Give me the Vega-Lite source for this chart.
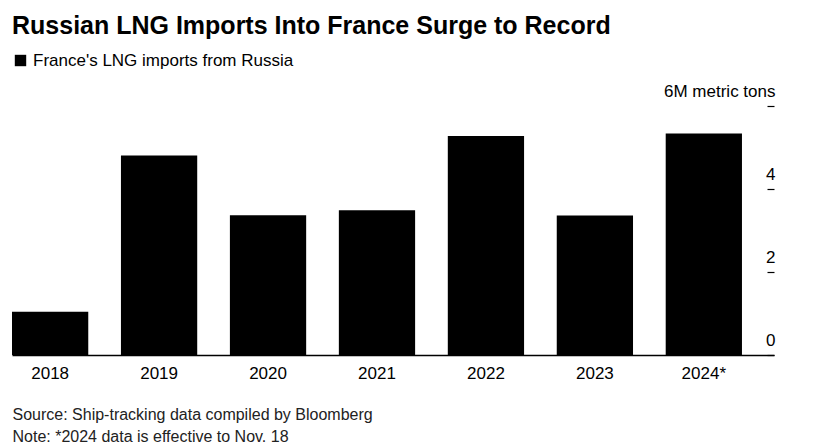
{
  "$schema": "https://vega.github.io/schema/vega-lite/v6.json",
  "width": 762,
  "height": 249,
  "padding": {"left": 12, "top": 14, "right": 5, "bottom": 5},
  "background": "white",
  "title": {
    "text": "Russian LNG Imports Into France Surge to Record",
    "anchor": "start",
    "font": "Liberation Sans",
    "fontSize": 25,
    "fontWeight": "bold",
    "color": "#000000",
    "offset": 13
  },
  "config": {
    "view": {"stroke": null},
    "font": "Liberation Sans"
  },
  "data": {
    "values": [
      {"year": "2018", "imports": 1.04},
      {"year": "2019", "imports": 4.81},
      {"year": "2020", "imports": 3.37},
      {"year": "2021", "imports": 3.49},
      {"year": "2022", "imports": 5.28},
      {"year": "2023", "imports": 3.36},
      {"year": "2024*", "imports": 5.34}
    ]
  },
  "transform": [
    {"calculate": "'France\\'s LNG imports from Russia'", "as": "series"}
  ],
  "mark": {"type": "bar", "color": "#000000"},
  "encoding": {
    "x": {
      "field": "year",
      "type": "ordinal",
      "scale": {"paddingInner": 0.3, "paddingOuter": 0.147, "align": 0},
      "axis": {
        "labelAngle": 0,
        "labelFontSize": 17,
        "labelColor": "#000000",
        "labelPadding": 10,
        "ticks": false,
        "domainColor": "#000000",
        "domainWidth": 1.5,
        "title": ["Source: Ship-tracking data compiled by Bloomberg", "Note: *2024 data is effective to Nov. 18"],
        "titleAnchor": "start",
        "titleAlign": "left",
        "titleFontSize": 16,
        "titleFontWeight": "normal",
        "titleColor": "#222222",
        "titleLineHeight": 22,
        "titlePadding": 25
      }
    },
    "y": {
      "field": "imports",
      "type": "quantitative",
      "scale": {"domain": [0, 6], "nice": false},
      "axis": {
        "orient": "right",
        "values": [0, 2, 4, 6],
        "title": null,
        "domain": false,
        "grid": false,
        "tickSize": -7,
        "tickColor": "#000000",
        "tickWidth": 1.2,
        "labelAlign": "right",
        "labelBaseline": "alphabetic",
        "labelPadding": 8,
        "labelOffset": -10,
        "labelFontSize": 17,
        "labelColor": "#000000",
        "labelExpr": "datum.value == 6 ? '6M metric tons' : datum.label"
      }
    },
    "color": {
      "field": "series",
      "type": "nominal",
      "scale": {"range": ["#000000"]},
      "legend": {
        "orient": "top",
        "title": null,
        "symbolType": "square",
        "symbolSize": 130,
        "symbolStrokeWidth": 0,
        "labelFontSize": 17,
        "labelLimit": 500,
        "labelColor": "#000000",
        "offset": 37
      }
    }
  }
}
